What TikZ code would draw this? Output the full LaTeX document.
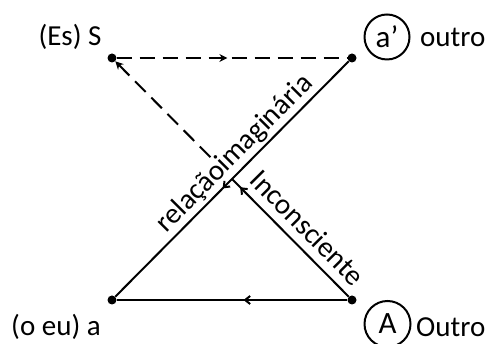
\documentclass[tikz,border=0pt]{standalone}
\usepackage{fontspec}
\setmainfont{Carlito}
\usetikzlibrary{positioning,arrows.meta,calc,decorations.markings}
\tikzset{
  pt/.style={circle,fill=black,inner sep=0pt,minimum size=9pt},
  lbl/.style={font=\fontsize{29}{33}\selectfont,inner sep=1pt},
  ring/.style={line width=2pt},
  ln/.style={line width=2pt},
  dsh/.style={line width=2pt,dash pattern=on 15pt off 8pt},
  midarr/.style={postaction={decorate},decoration={markings,mark=at position #1 with {\arrow{Straight Barb[length=5pt,width=8pt]}}}},
  dasharr/.style={postaction={decorate},decoration={markings,mark=at position #1 with {\arrow{Stealth[length=8pt,width=8pt]}}}},
}

\begin{document}
\begin{tikzpicture}[x=1pt,y=1pt]
\useasboundingbox (0,0) rectangle (489,344);
% the four corners
\node[pt] (nS) at (112,286) {};
\node[pt] (nAp) at (352,286) {};
\node[pt] (na) at (112,44) {};
\node[pt] (nA) at (352,44) {};
\coordinate (X) at (intersection of nS--nA and nAp--na);
\coordinate (d) at ($(X)!0.18!(nS)$);
% labels
\node[lbl] (lS) at (70,307) {(Es) S};
\node[lbl,inner sep=0pt,font=\fontsize{31}{35}\selectfont] (tAp) at (387,307) {a’};
\draw[ring] (tAp) circle[radius=22.5pt];
\node[lbl,anchor=west] (lAp) at (419,307) {outro};
\node[lbl] (la) at (56,17) {(o eu) a};
\node[lbl,inner sep=0pt,font=\fontsize{31}{35}\selectfont] (tA) at (387.5,20) {A};
\draw[ring] (tA) circle[radius=23pt];
\node[lbl,anchor=west] (lA) at (415,17) {Outro};
% connectors
\draw[dsh,dasharr=0.48] (nS) -- (nAp);
\draw[ln,midarr=0.54] (nAp) -- (na);
\draw[ln,midarr=0.45] (nA) -- (na);
\draw[ln,midarr=0.93] (nA) -- (X);
\draw[dsh,-{Stealth[length=8pt,width=8pt]}] (d) -- (nS);
\path (nAp) -- (na) node[lbl,sloped,above=3pt,inner sep=0pt,pos=0.44] (lim) {relaçãoimaginária};
\path (nA) -- (X) node[lbl,sloped,above=9pt,inner sep=0pt,pos=0.47] (lin) {Inconsciente};
\end{tikzpicture}
\end{document}
